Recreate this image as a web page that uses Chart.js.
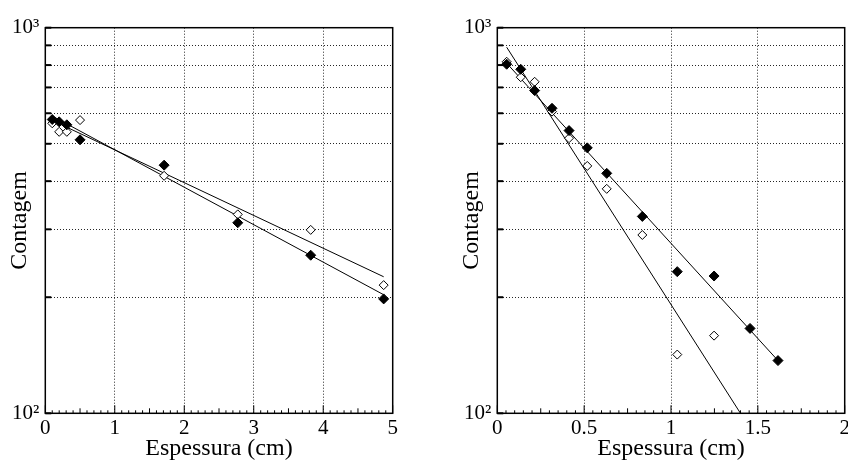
<!DOCTYPE html>
<html>
<head>
<meta charset="utf-8">
<script src="https://cdn.jsdelivr.net/npm/chart.js@4.4.1/dist/chart.umd.min.js"></script>
<style>
  html, body { margin: 0; padding: 0; background: #fff; }
  body { width: 848px; height: 461px; overflow: hidden; position: relative; }
  #left { position: absolute; left: 0; top: 0; }
  #right { position: absolute; left: 424px; top: 0; }
</style>
</head>
<body>
<canvas id="left" width="424" height="461"></canvas>
<canvas id="right" width="440" height="461"></canvas>
<script>
// Left panel: thickness up to 5 cm
const thickLeft = [0.1, 0.2, 0.31, 0.5, 1.71, 2.77, 3.82, 4.87];
const filledLeft = [578, 570, 560, 512, 440, 312, 257, 198];
const openLeft = [565, 537, 537, 576, 413, 328, 299, 215];
const fitLeftX = [0.1, 4.87];
const fitLeftFilled = [590, 203];
const fitLeftOpen = [575, 226];

// Right panel: thickness up to 2 cm
const thickRight = [0.054, 0.135, 0.215, 0.315, 0.413, 0.518, 0.63, 0.835, 1.036, 1.248, 1.455, 1.616];
const filledRight = [804, 780, 687, 618, 541, 488, 419, 324, 233, 227, 166, 137];
const openRight = [816, 744, 724, 606, 517, 438, 382, 290, 142, 159];
const fitRightFilledX = [0.054, 1.616];
const fitRightFilled = [809, 137];
const fitRightOpenX = [0.054, 1.40];
const fitRightOpen = [890, 100];

// log axis grid values and the two labelled decades
const yGrid = [100, 200, 300, 400, 500, 600, 700, 800, 900, 1000];
const yLabels = { 100: '10²', 1000: '10³' };

const serif = "'Liberation Serif', 'Times New Roman', serif";

function pts(xs, ys) {
    return ys.map((y, i) => ({ x: xs[i], y: y }));
}

// box around the plot, inward ticks on left and bottom axis
const framePlugin = {
    id: 'frame',
    afterDraw(chart, args, opts) {
        const { ctx, chartArea: a, scales } = chart;
        ctx.save();
        ctx.strokeStyle = '#000';
        ctx.lineWidth = 1.5;
        ctx.strokeRect(a.left, a.top, a.right - a.left, a.bottom - a.top);

        // y ticks at each grid value
        ctx.lineWidth = 2;
        scales.y.ticks.forEach(t => {
            const py = scales.y.getPixelForValue(t.value);
            ctx.beginPath();
            ctx.moveTo(a.left, py);
            ctx.lineTo(a.left + 6, py);
            ctx.stroke();
        });

        // x minor ticks
        ctx.lineWidth = 1;
        const x = scales.x;
        const n = Math.round((x.max - x.min) / opts.minor);
        for (let i = 0; i <= n; i++) {
            const v = x.min + i * opts.minor;
            const px = x.getPixelForValue(v);
            let len = 3;
            if (Math.abs(v / opts.major - Math.round(v / opts.major)) < 1e-6) len = 8;
            else if (Math.abs(v / opts.mid - Math.round(v / opts.mid)) < 1e-6) len = 5;
            ctx.beginPath();
            ctx.moveTo(px, a.bottom);
            ctx.lineTo(px, a.bottom - len);
            ctx.stroke();
        }
        ctx.restore();
    }
};

function makeChart(id, cfg) {
    const ctx = document.getElementById(id).getContext('2d');
    return new Chart(ctx, {
        type: 'scatter',
        data: {
            datasets: [
                {
                    data: cfg.filled,
                    pointStyle: 'rectRot',
                    pointRadius: 5,
                    backgroundColor: '#000',
                    borderColor: '#000',
                    borderWidth: 1
                },
                {
                    data: cfg.open,
                    pointStyle: 'rectRot',
                    pointRadius: 4.5,
                    backgroundColor: '#fff',
                    borderColor: '#000',
                    borderWidth: 1
                },
                {
                    data: cfg.fitFilled,
                    showLine: true,
                    pointRadius: 0,
                    borderColor: '#000',
                    borderWidth: 1
                },
                {
                    data: cfg.fitOpen,
                    showLine: true,
                    pointRadius: 0,
                    borderColor: '#000',
                    borderWidth: 1
                }
            ]
        },
        options: {
            responsive: false,
            animation: false,
            layout: {
                padding: { left: cfg.padLeft, right: cfg.padRight, top: 27.7, bottom: 0 }
            },
            plugins: {
                legend: { display: false },
                tooltip: { enabled: false },
                frame: { minor: cfg.minor, mid: cfg.mid, major: cfg.major }
            },
            scales: {
                x: {
                    type: 'linear',
                    min: 0,
                    max: cfg.xMax,
                    afterFit: s => { s.height = 47.7; },
                    ticks: {
                        stepSize: cfg.major,
                        padding: 3,
                        color: '#000',
                        font: { family: serif, size: 21 },
                        callback: v => String(+(+v).toFixed(2))
                    },
                    grid: { color: 'rgba(0,0,0,0.85)', lineWidth: 1, drawTicks: false },
                    border: { display: false, dash: [1, 2] },
                    title: {
                        display: true,
                        text: 'Espessura (cm)',
                        color: '#000',
                        font: { family: serif, size: 24, lineHeight: 1 },
                        padding: { top: 0, bottom: 0 }
                    }
                },
                y: {
                    type: 'logarithmic',
                    min: 100,
                    max: 1000,
                    afterFit: s => { s.width = 45.3; },
                    afterBuildTicks: s => { s.ticks = yGrid.map(v => ({ value: v })); },
                    ticks: {
                        autoSkip: false,
                        padding: 6,
                        color: '#000',
                        font: { family: serif, size: 21 },
                        callback: v => yLabels[v] || ''
                    },
                    grid: { color: 'rgba(0,0,0,0.85)', lineWidth: 1, drawTicks: false },
                    border: { display: false, dash: [1, 2] },
                    title: {
                        display: true,
                        text: 'Contagem',
                        color: '#000',
                        font: { family: serif, size: 24, lineHeight: 1 },
                        padding: { top: 8, bottom: 0 }
                    }
                }
            }
        },
        plugins: [framePlugin]
    });
}

makeChart('left', {
    filled: pts(thickLeft, filledLeft),
    open: pts(thickLeft, openLeft),
    fitFilled: pts(fitLeftX, fitLeftFilled),
    fitOpen: pts(fitLeftX, fitLeftOpen),
    xMax: 5, major: 1, mid: 0.5, minor: 0.1,
    padLeft: 0, padRight: 31.3
});

makeChart('right', {
    filled: pts(thickRight, filledRight),
    open: pts(thickRight, openRight),
    fitFilled: pts(fitRightFilledX, fitRightFilled),
    fitOpen: pts(fitRightOpenX, fitRightOpen),
    xMax: 2, major: 0.5, mid: 0.25, minor: 0.05,
    padLeft: 28, padRight: 19.3
});
</script>
</body>
</html>
